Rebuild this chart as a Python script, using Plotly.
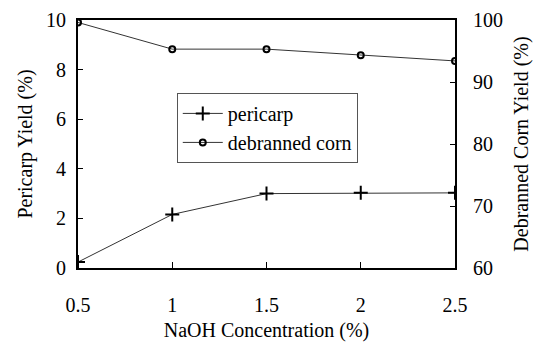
import plotly.graph_objects as go

naoh = [0.5, 1.0, 1.5, 2.0, 2.5]
pericarp = [0.24, 2.16, 3.0, 3.03, 3.03]
debranned = [99.6, 95.3, 95.3, 94.3, 93.4]

x_ticks = [0.5, 1, 1.5, 2, 2.5]
x_ticktext = ["0.5", "1", "1.5", "2", "2.5"]
y_ticks = [0, 2, 4, 6, 8, 10]
y2_ticks = [60, 70, 80, 90, 100]

FONT = "Liberation Serif"

fig = go.Figure()
fig.add_trace(go.Scatter(
    x=naoh, y=pericarp, name="pericarp", mode="lines+markers",
    line=dict(color="#333333", width=1),
    marker=dict(symbol="cross-thin", size=10, color="black",
                line=dict(color="black", width=2)),
    yaxis="y"))
fig.add_trace(go.Scatter(
    x=naoh, y=debranned, name="debranned corn", mode="lines+markers",
    line=dict(color="#333333", width=1),
    marker=dict(symbol="circle-open", size=6, color="black",
                line=dict(color="black", width=2)),
    yaxis="y2"))

fig.update_layout(
    width=533, height=342,
    margin=dict(l=78, r=78, t=20, b=74, autoexpand=False),
    paper_bgcolor="white", plot_bgcolor="white",
    font=dict(family=FONT, size=20, color="black"),
    showlegend=True,
    legend=dict(x=0.262, y=0.706, xanchor="left", yanchor="top",
                bordercolor="#555555", borderwidth=1, bgcolor="white",
                font=dict(size=20, family=FONT), tracegroupgap=0,
                itemwidth=40),
    xaxis=dict(range=[0.5, 2.5], tickvals=x_ticks, ticktext=x_ticktext,
               showline=True, linewidth=2, linecolor="black", mirror=True,
               ticks="inside", ticklen=6, tickcolor="black", automargin=False,
               showgrid=False, zeroline=False, ticklabelstandoff=18,
               title=dict(text="NaOH Concentration (%)", standoff=10,
                          font=dict(size=20))),
    yaxis=dict(range=[0, 10], tickvals=y_ticks, automargin=False,
               showline=True, linewidth=2, linecolor="black",
               ticks="inside", ticklen=5, tickcolor="black",
               showgrid=False, zeroline=False, ticklabelstandoff=6,
               title=dict(text="Pericarp Yield (%)", standoff=8,
                          font=dict(size=20))),
    yaxis2=dict(range=[60, 100], tickvals=y2_ticks, overlaying="y",
                side="right", showline=True, linewidth=2, linecolor="black",
                ticks="inside", ticklen=5, tickcolor="black", automargin=False,
                showgrid=False, zeroline=False, ticklabelstandoff=12,
                title=dict(text="Debranned Corn Yield (%)", standoff=12,
                           font=dict(size=20))),
)

fig.write_html("out.html")
